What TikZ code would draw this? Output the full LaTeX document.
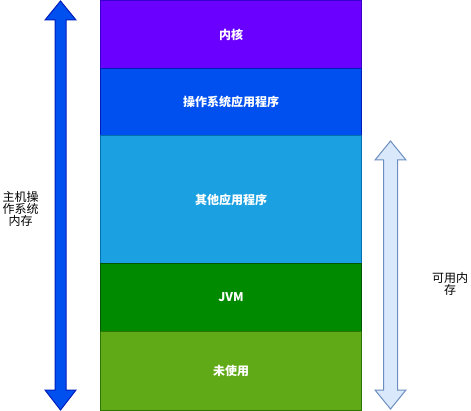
\documentclass[tikz,border=0pt]{standalone}
\usepackage{fontspec}
\newfontfamily\cjk{Noto Sans CJK SC}
\usepackage{tikz}
\usetikzlibrary{positioning}
\definecolor{Kernel}{HTML}{6A00FF}
\definecolor{KernelLine}{HTML}{3700CC}
\definecolor{OsApp}{HTML}{0050EF}
\definecolor{OsAppLine}{HTML}{001DBC}
\definecolor{Other}{HTML}{1BA1E2}
\definecolor{OtherLine}{HTML}{006EAF}
\definecolor{Jvm}{HTML}{008A00}
\definecolor{JvmLine}{HTML}{005700}
\definecolor{Free}{HTML}{60A917}
\definecolor{FreeLine}{HTML}{2D7600}
\definecolor{AvailFill}{HTML}{DAE8FC}
\definecolor{AvailLine}{HTML}{6C8EBF}
\tikzset{
  block/.style={draw,line width=1pt,minimum width=261pt,inner sep=0pt,anchor=north west,
    text=white,font=\cjk\bfseries\fontsize{12}{12}\selectfont},
  sidelabel/.style={align=center,inner sep=0pt,text=black,font=\cjk\fontsize{12}{12}\selectfont},
  bigarrow/.style={line width=1pt,line join=miter}
}

\begin{document}
\begin{tikzpicture}[x=1pt,y=-1pt]
  \useasboundingbox (0,0) rectangle (471,411);

  % memory stack
  \node[block,fill=Kernel,draw=KernelLine,minimum height=68pt] (kernel) at (100,0) {内核};
  \node[block,fill=OsApp,draw=OsAppLine,minimum height=67pt] (osapp) at (100,68) {操作系统应用程序};
  \node[block,fill=Other,draw=OtherLine,minimum height=128pt] (other) at (100,135) {其他应用程序};
  \node[block,fill=Jvm,draw=JvmLine,minimum height=68pt] (jvm) at (100,263) {JVM};
  \node[block,fill=Free,draw=FreeLine,minimum height=79pt] (unused) at (100,331) {未使用};

  % host memory arrow
  \draw[bigarrow,fill=OsApp,draw=OsAppLine]
    (60.5,1) -- (76,20) -- (66,20) -- (66,390) -- (76,390) -- (60.5,410)
    -- (45,390) -- (55,390) -- (55,20) -- (45,20) -- cycle;
  \node[sidelabel] (hostmem) at (20.5,209) {主机操\\作系统\\内存};

  % available memory arrow
  \draw[bigarrow,fill=AvailFill,draw=AvailLine]
    (390.5,141) -- (406,160) -- (397.5,160) -- (397.5,390) -- (406,390) -- (390.5,409)
    -- (375,390) -- (383.5,390) -- (383.5,160) -- (375,160) -- cycle;
  \node[sidelabel] (availmem) at (450,284) {可用内\\存};
\end{tikzpicture}
\end{document}
